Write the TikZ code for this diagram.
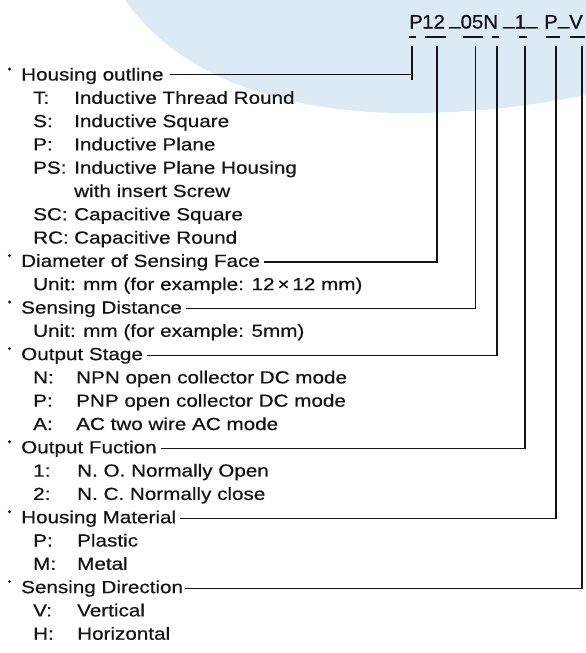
\documentclass[tikz,border=0pt]{standalone}
\usepackage{fontspec}
\setmainfont{Liberation Sans}[FakeStretch=1.18,FakeBold=0.5]
\newfontfamily\codefont{Liberation Sans}[FakeStretch=1.05,FakeBold=0.6]
\newcommand\undsc{\raisebox{0.2em}{\_}}
\definecolor{swoosh}{RGB}{220,234,245}
\definecolor{ink}{RGB}{20,20,22}
\begin{document}
\begin{tikzpicture}[x=1pt,y=-1pt,
  txt/.style={anchor=base west,inner sep=0pt,text=ink,font=\fontsize{17.5}{20}\selectfont},
  codetxt/.style={anchor=base west,inner sep=0pt,text=ink,font=\codefont\fontsize{19.5}{22}\selectfont},
  leader/.style={draw=ink,line width=1.2pt},
  tick/.style={draw=ink,line width=1.5pt},
  dotmark/.style={fill=ink}]
\useasboundingbox (0,0) rectangle (586,653);
\fill[swoosh] (125,0) .. controls (185,85) and (300,115) .. (420,113)
  .. controls (500,112) and (560,100) .. (586,95) -- (586,0) -- cycle;

% code
\node[codetxt] (cP) at (409,28.5) {P};
\node[codetxt] (c12) at (422,28.5) {12};
\node[codetxt] (c05) at (449,28.5) {\undsc05N};
\node[codetxt] (c1) at (503,28.5) {\undsc1\undsc};
\node[codetxt] (cPV) at (544,28.5) {P\undsc V};
\draw[tick] (409,37) -- (416,37);
\draw[tick] (425,37) -- (446,37);
\draw[tick] (463,37) -- (483,37);
\draw[tick] (492,37) -- (499,37);
\draw[tick] (519,37) -- (527,37);
\draw[tick] (546,37) -- (560,37);
\draw[tick] (570,37) -- (585,37);

\coordinate (v1) at (412,46);
\coordinate (v1b) at (412,80);
\coordinate (v2) at (437,46);
\coordinate (v3) at (475.5,46);
\coordinate (v4) at (497,46);
\coordinate (v5) at (525,46);
\coordinate (v6) at (556,46);
\coordinate (v7) at (582,46);

% list
\fill[dotmark] (9.5,69) circle (1.6);
\node[txt] (hd1) at (21,80.5) {Housing outline};
\node[txt] (k1) at (33,103.8) {T:};   \node[txt] (d1) at (74,103.8) {Inductive Thread Round};
\node[txt] (k2) at (33,127.1) {S:};   \node[txt] (d2) at (74,127.1) {Inductive Square};
\node[txt] (k3) at (33,150.4) {P:};   \node[txt] (d3) at (74,150.4) {Inductive Plane};
\node[txt] (k4) at (33,173.7) {PS:};  \node[txt] (d4) at (74,173.7) {Inductive Plane Housing};
\node[txt] (d5) at (74,197.0) {with insert Screw};
\node[txt] (k6) at (33,220.3) {SC:};  \node[txt] (d6) at (74,220.3) {Capacitive Square};
\node[txt] (k7) at (33,243.6) {RC:};  \node[txt] (d7) at (74,243.6) {Capacitive Round};

\fill[dotmark] (9.5,255.4) circle (1.6);
\node[txt] (hd2) at (21,266.9) {Diameter of Sensing Face};
\node[txt] (u2) at (33,290.2) {Unit: mm (for example: 12\,×\,12 mm)};

\fill[dotmark] (9.5,302) circle (1.6);
\node[txt] (hd3) at (21,313.5) {Sensing Distance};
\node[txt] (u3) at (33,336.8) {Unit: mm (for example: 5mm)};

\fill[dotmark] (9.5,348.6) circle (1.6);
\node[txt] (hd4) at (21,360.1) {Output Stage};
\node[txt] (k13) at (33,383.4) {N:};  \node[txt] (d13) at (76,383.4) {NPN open collector DC mode};
\node[txt] (k14) at (33,406.7) {P:};  \node[txt] (d14) at (76,406.7) {PNP open collector DC mode};
\node[txt] (k15) at (33,430.0) {A:};  \node[txt] (d15) at (76,430.0) {AC two wire AC mode};

\fill[dotmark] (9.5,441.8) circle (1.6);
\node[txt] (hd5) at (21,453.3) {Output Fuction};
\node[txt] (k17) at (33,476.6) {1:};  \node[txt] (d17) at (77,476.6) {N. O. Normally Open};
\node[txt] (k18) at (33,499.9) {2:};  \node[txt] (d18) at (77,499.9) {N. C. Normally close};

\fill[dotmark] (9.5,511.7) circle (1.6);
\node[txt] (hd6) at (21,523.2) {Housing Material};
\node[txt] (k20) at (33,546.5) {P:};  \node[txt] (d20) at (77,546.5) {Plastic};
\node[txt] (k21) at (33,569.8) {M:};  \node[txt] (d21) at (77,569.8) {Metal};

\fill[dotmark] (9.5,581.6) circle (1.6);
\node[txt] (hd7) at (21,593.1) {Sensing Direction};
\node[txt] (k23) at (33,616.4) {V:};  \node[txt] (d23) at (77,616.4) {Vertical};
\node[txt] (k24) at (33,639.7) {H:};  \node[txt] (d24) at (77,639.7) {Horizontal};

% leaders
\draw[leader] ([xshift=6pt,yshift=6pt]hd1.base east) -| (v1);
\draw[leader] (v1) -- (v1b);
\draw[leader] ([xshift=4pt,yshift=5pt]hd2.base east) -| (v2);
\draw[leader] ([xshift=4pt,yshift=5pt]hd3.base east) -| (v3);
\draw[leader] ([xshift=4pt,yshift=5pt]hd4.base east) -| (v4);
\draw[leader] ([xshift=4pt,yshift=5pt]hd5.base east) -| (v5);
\draw[leader] ([xshift=4pt,yshift=5pt]hd6.base east) -| (v6);
\draw[leader] ([xshift=2pt,yshift=5pt]hd7.base east) -| (v7);
\end{tikzpicture}
\end{document}
